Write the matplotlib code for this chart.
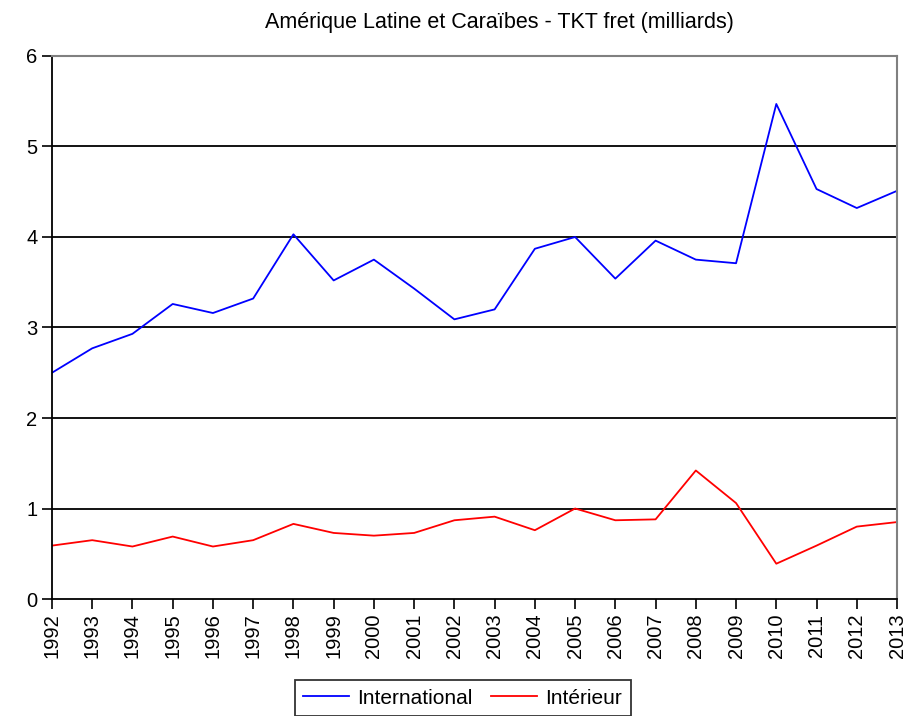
import numpy as np
import matplotlib.pyplot as plt

plt.rcParams['font.family'] = ['Liberation Sans', 'DejaVu Sans']

years = list(range(1992, 2014))
international = [2.50, 2.77, 2.93, 3.26, 3.16, 3.32, 4.03, 3.52, 3.75, 3.43, 3.09,
                 3.20, 3.87, 4.00, 3.54, 3.96, 3.75, 3.71, 5.47, 4.53, 4.32, 4.51]
interieur = [0.59, 0.65, 0.58, 0.69, 0.58, 0.65, 0.83, 0.73, 0.70, 0.73, 0.87,
             0.91, 0.76, 1.00, 0.87, 0.88, 1.42, 1.06, 0.39, 0.59, 0.80, 0.85]

fig = plt.figure(figsize=(9.07, 7.16), dpi=100)
ax = fig.add_axes([0.0573, 0.1634, 0.9317, 0.7584])

ax.plot(years, international, color='#0000ff', lw=1.3, label='International')
ax.plot(years, interieur, color='#ff0000', lw=1.3, label='Intérieur')

ax.set_xlim(1992, 2013)
ax.set_ylim(0, 6)
ax.set_xticks(years)
ax.set_xticklabels([str(y) for y in years], rotation=90, fontsize=14.5)
ax.set_yticks(range(0, 7))
ax.set_yticklabels([str(v) for v in range(0, 7)], fontsize=14.5)
ax.tick_params(direction='out', length=7, width=1.2, color='black')
for v in range(1, 6):
    ax.axhline(v, color='black', lw=1.3, zorder=0)

ax.spines['left'].set_linewidth(1.3)
ax.spines['bottom'].set_linewidth(1.3)
ax.spines['top'].set_color('#808080')
ax.spines['right'].set_color('#808080')
ax.spines['top'].set_linewidth(1.5)
ax.spines['right'].set_linewidth(1.5)

fig.text(0.551, 0.969, 'Amérique Latine et Caraïbes - TKT fret (milliards)',
         ha='center', va='center', fontsize=15.5)

leg = fig.legend(loc='center', bbox_to_anchor=(0.51, 0.025), ncol=2, fontsize=15,
                 frameon=True, fancybox=False, handlelength=2.2, columnspacing=0.9,
                 borderpad=0.4, handletextpad=0.4)
leg.get_frame().set_edgecolor('black')
leg.get_frame().set_linewidth(1.3)

plt.savefig('out.png', dpi=100)
